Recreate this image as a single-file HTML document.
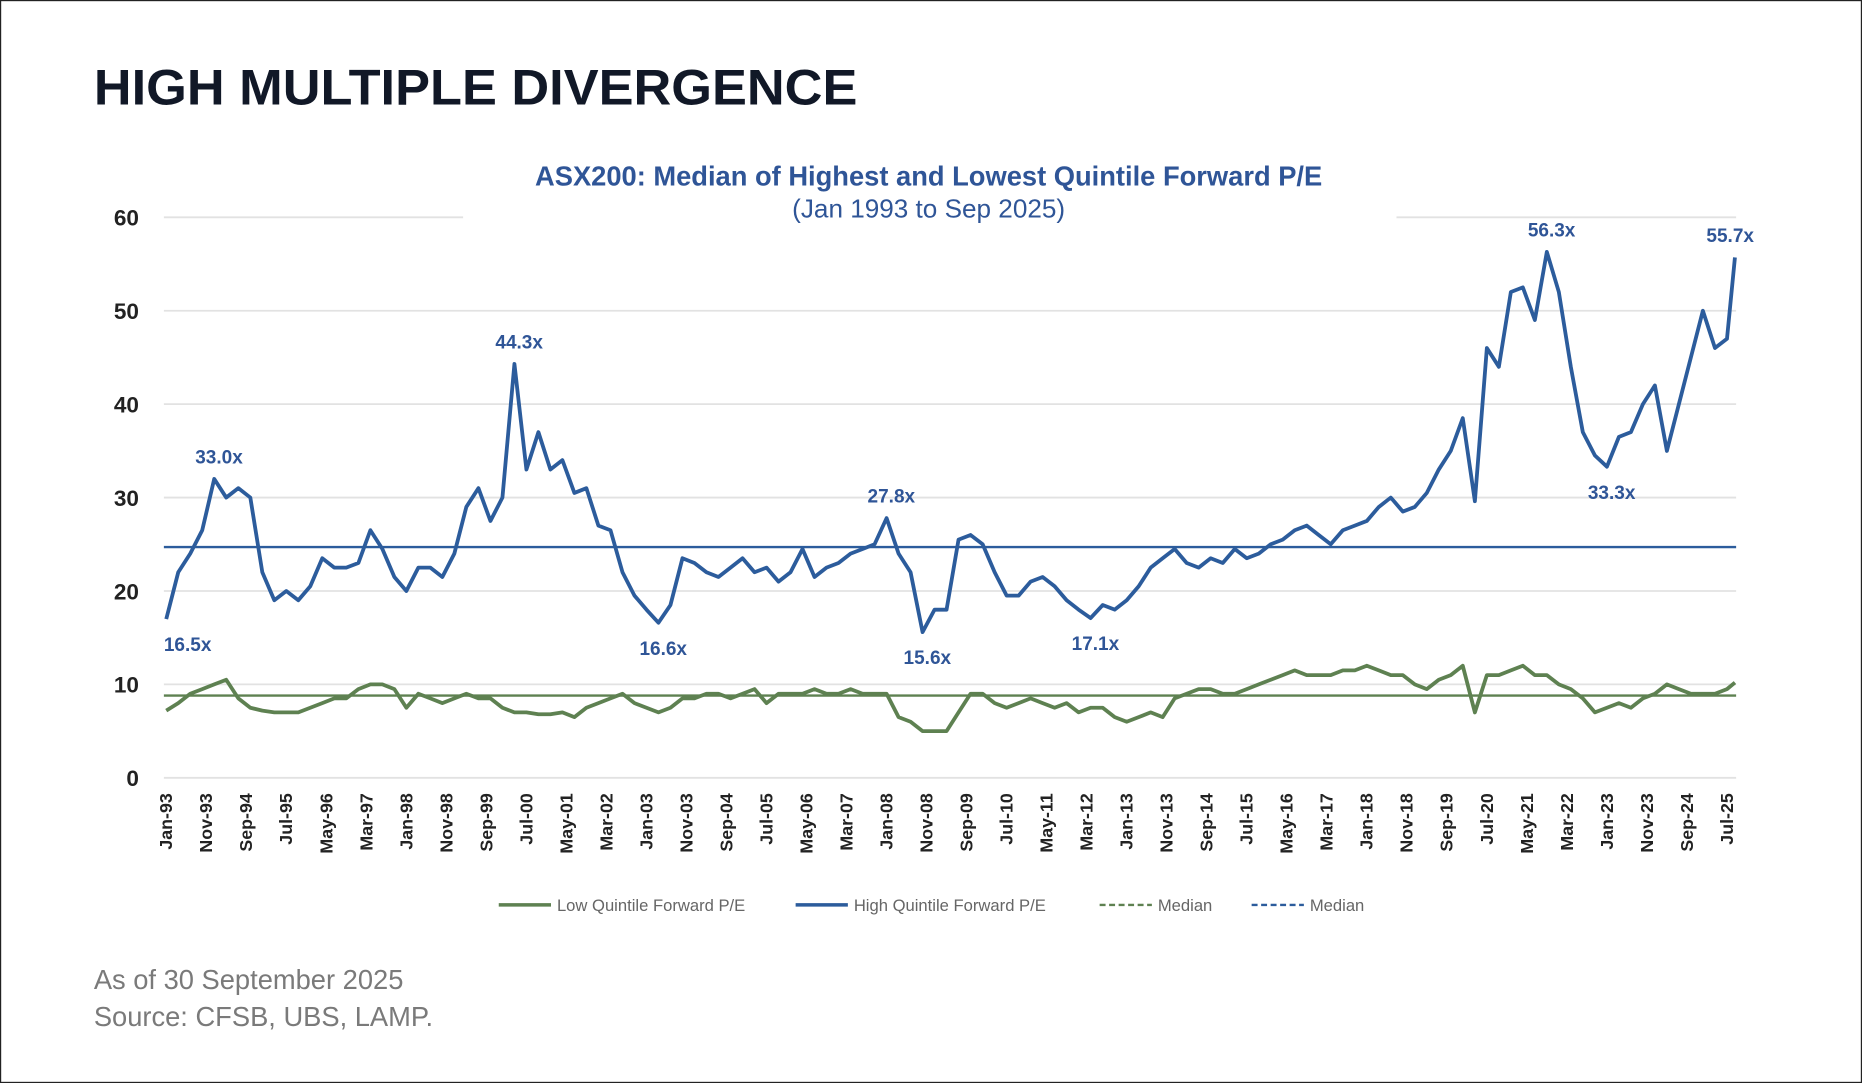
<!DOCTYPE html>
<html><head><meta charset="utf-8"><style>
html,body{margin:0;padding:0;background:#fff;}
svg{display:block;}
text{font-family:"Liberation Sans",Arial,sans-serif;}
</style></head><body>
<svg id="chart" width="1862" height="1083" viewBox="0 0 1568 912" xmlns="http://www.w3.org/2000/svg">
<rect x="0.5" y="0.5" width="1567" height="911" fill="#fff" stroke="#222" stroke-width="1"/>
<text x="79" y="88" font-size="42" font-weight="bold" fill="#111827" textLength="643" lengthAdjust="spacingAndGlyphs">HIGH MULTIPLE DIVERGENCE</text>
<text x="782" y="156" text-anchor="middle" font-size="23" font-weight="bold" fill="#2f5597">ASX200: Median of Highest and Lowest Quintile Forward P/E</text>
<text x="782" y="183" text-anchor="middle" font-size="22" fill="#2f5597">(Jan 1993 to Sep 2025)</text>
<g id="grid"></g><g id="yticks"></g><g id="xticks"></g><g id="series"></g><g id="labels"></g>
<g>
<line x1="420" y1="762" x2="464" y2="762" stroke="#5e8151" stroke-width="3"/>
<text x="469" y="767" font-size="14" fill="#666">Low Quintile Forward P/E</text>
<line x1="670" y1="762" x2="714" y2="762" stroke="#2c5c9c" stroke-width="3"/>
<text x="719" y="767" font-size="14" fill="#666">High Quintile Forward P/E</text>
<line x1="926" y1="762" x2="970" y2="762" stroke="#5e8151" stroke-width="2" stroke-dasharray="5,3"/>
<text x="975" y="767" font-size="14" fill="#666">Median</text>
<line x1="1054" y1="762" x2="1098" y2="762" stroke="#2c5c9c" stroke-width="2" stroke-dasharray="5,3"/>
<text x="1103" y="767" font-size="14" fill="#666">Median</text>
</g>
<text x="79" y="833" font-size="23" fill="#7a7a7a">As of 30 September 2025</text>
<text x="79" y="864" font-size="23" fill="#7a7a7a">Source: CFSB, UBS, LAMP.</text>
</svg>
<script>
const high = [17,22,24,26.5, 32,30,31,30, 22,19,20,19, 20.5,23.5,22.5,22.5, 23,26.5,24.5,21.5, 20,22.5,22.5,21.5,
24,29,31,27.5, 30,44.3,33,37, 33,34,30.5,31, 27,26.5,22,19.5, 18,16.6,18.5,23.5, 23,22,21.5,22.5,
23.5,22,22.5,21, 22,24.5,21.5,22.5, 23,24,24.5,25, 27.8,24,22,15.6, 18,18,25.5,26, 25,22,19.5,19.5,
21,21.5,20.5,19, 18,17.1,18.5,18, 19,20.5,22.5,23.5, 24.5,23,22.5,23.5, 23,24.5,23.5,24, 25,25.5,26.5,27,
26,25,26.5,27, 27.5,29,30,28.5, 29,30.5,33,35, 38.5,29.6,46,44, 52,52.5,49,56.3, 52,44,37,34.5,
33.3,36.5,37,40, 42,35,40,45, 50,46,47,55.7];
const low = [7.2,8,9,9.5, 10,10.5,8.5,7.5, 7.2,7,7,7, 7.5,8,8.5,8.5, 9.5,10,10,9.5, 7.5,9,8.5,8,
8.5,9,8.5,8.5, 7.5,7,7,6.8, 6.8,7,6.5,7.5, 8,8.5,9,8, 7.5,7,7.5,8.5, 8.5,9,9,8.5,
9,9.5,8,9, 9,9,9.5,9, 9,9.5,9,9, 9,6.5,6,5, 5,5,7,9, 9,8,7.5,8,
8.5,8,7.5,8, 7,7.5,7.5,6.5, 6,6.5,7,6.5, 8.5,9,9.5,9.5, 9,9,9.5,10, 10.5,11,11.5,11,
11,11,11.5,11.5, 12,11.5,11,11, 10,9.5,10.5,11, 12,7,11,11, 11.5,12,11,11, 10,9.5,8.5,7,
7.5,8,7.5,8.5, 9,10,9.5,9, 9,9,9.5,10.2];
const medianHigh = [24.7];
const medianLow = [8.8];
const yTicks = [0,10,20,30,40,50,60];
const xTickLabels = ["Jan-93","Nov-93","Sep-94","Jul-95","May-96","Mar-97","Jan-98","Nov-98","Sep-99","Jul-00","May-01","Mar-02","Jan-03","Nov-03","Sep-04","Jul-05","May-06","Mar-07","Jan-08","Nov-08","Sep-09","Jul-10","May-11","Mar-12","Jan-13","Nov-13","Sep-14","Jul-15","May-16","Mar-17","Jan-18","Nov-18","Sep-19","Jul-20","May-21","Mar-22","Jan-23","Nov-23","Sep-24","Jul-25"];
const annotations = [["16.5x",0,-1],["33.0x",4,1],["44.3x",29,1],["16.6x",41,-1],["27.8x",60,1],["15.6x",63,-1],["17.1x",77,-1],["56.3x",115,1],["33.3x",120,-1],["55.7x",131,1]];

const NS="http://www.w3.org/2000/svg";
const X0=140,X1=1461,Y0=655,Y1=183,MMAX=392;
function xs(m){return X0+(X1-X0)*m/MMAX;}
function ys(v){return Y0-(Y0-Y1)*v/60;}
function monthOf(i,n){return i===n-1?MMAX:i*3;}
function mk(tag,attrs,parent){const e=document.createElementNS(NS,tag);for(const k in attrs)e.setAttribute(k,attrs[k]);parent.appendChild(e);return e;}
const grid=document.getElementById('grid'),yt=document.getElementById('yticks'),xt=document.getElementById('xticks'),ser=document.getElementById('series'),lab=document.getElementById('labels');
yTicks.forEach(v=>{
  const y=ys(v);
  if(v===60){
    let l=mk('line',{x1:138,x2:390,y1:y,y2:y,stroke:'#e2e2e2','stroke-width':1.5},grid);
    
    
    l=mk('line',{x1:1176,x2:1462,y1:y,y2:y,stroke:'#e2e2e2','stroke-width':1.5},grid);
    
    
  } else {
    const l=mk('line',{x1:138,x2:1462,y1:y,y2:y,stroke:'#e2e2e2','stroke-width':1.5},grid);
    
    
  }
  const t=mk('text',{x:117,y:y+7,'text-anchor':'end','font-size':19,'font-weight':'bold',fill:'#222'},yt);
  t.textContent=v;
  
  
});
xTickLabels.forEach((s,i)=>{
  const x=xs(i*10);
  const t=mk('text',{x:0,y:0,transform:`translate(${x+5},668) rotate(-90)`,'text-anchor':'end','font-size':15,'font-weight':'bold',fill:'#222'},xt);
  t.textContent=s;
  
  
});
function path(arr,color,name){
  const d=arr.map((v,i)=>(i?'L':'M')+xs(monthOf(i,arr.length)).toFixed(1)+','+ys(v).toFixed(1)).join('');
  const p=mk('path',{d:d,fill:'none',stroke:color,'stroke-width':3.2,'stroke-linejoin':'round'},ser);
  
  
}
let m=mk('line',{x1:138,x2:1462,y1:ys(medianHigh[0]),y2:ys(medianHigh[0]),stroke:'#2c5c9c','stroke-width':2},ser);


m=mk('line',{x1:138,x2:1462,y1:ys(medianLow[0]),y2:ys(medianLow[0]),stroke:'#5e8151','stroke-width':2},ser);


path(low,'#5e8151','low-quintile-line');
path(high,'#2c5c9c','high-quintile-line');
annotations.forEach(a=>{
  const i=a[1],v=high[i];
  const x=xs(monthOf(i,high.length)),y=ys(v);
  const dx=i===0?18:(i===131?-4:4);
  const t=mk('text',{x:x+dx,y:a[2]>0?y-13:y+27,'text-anchor':'middle','font-size':16,'font-weight':'bold',fill:'#2f5597'},lab);
  t.textContent=a[0];
  
  
});
</script>
</body></html>
